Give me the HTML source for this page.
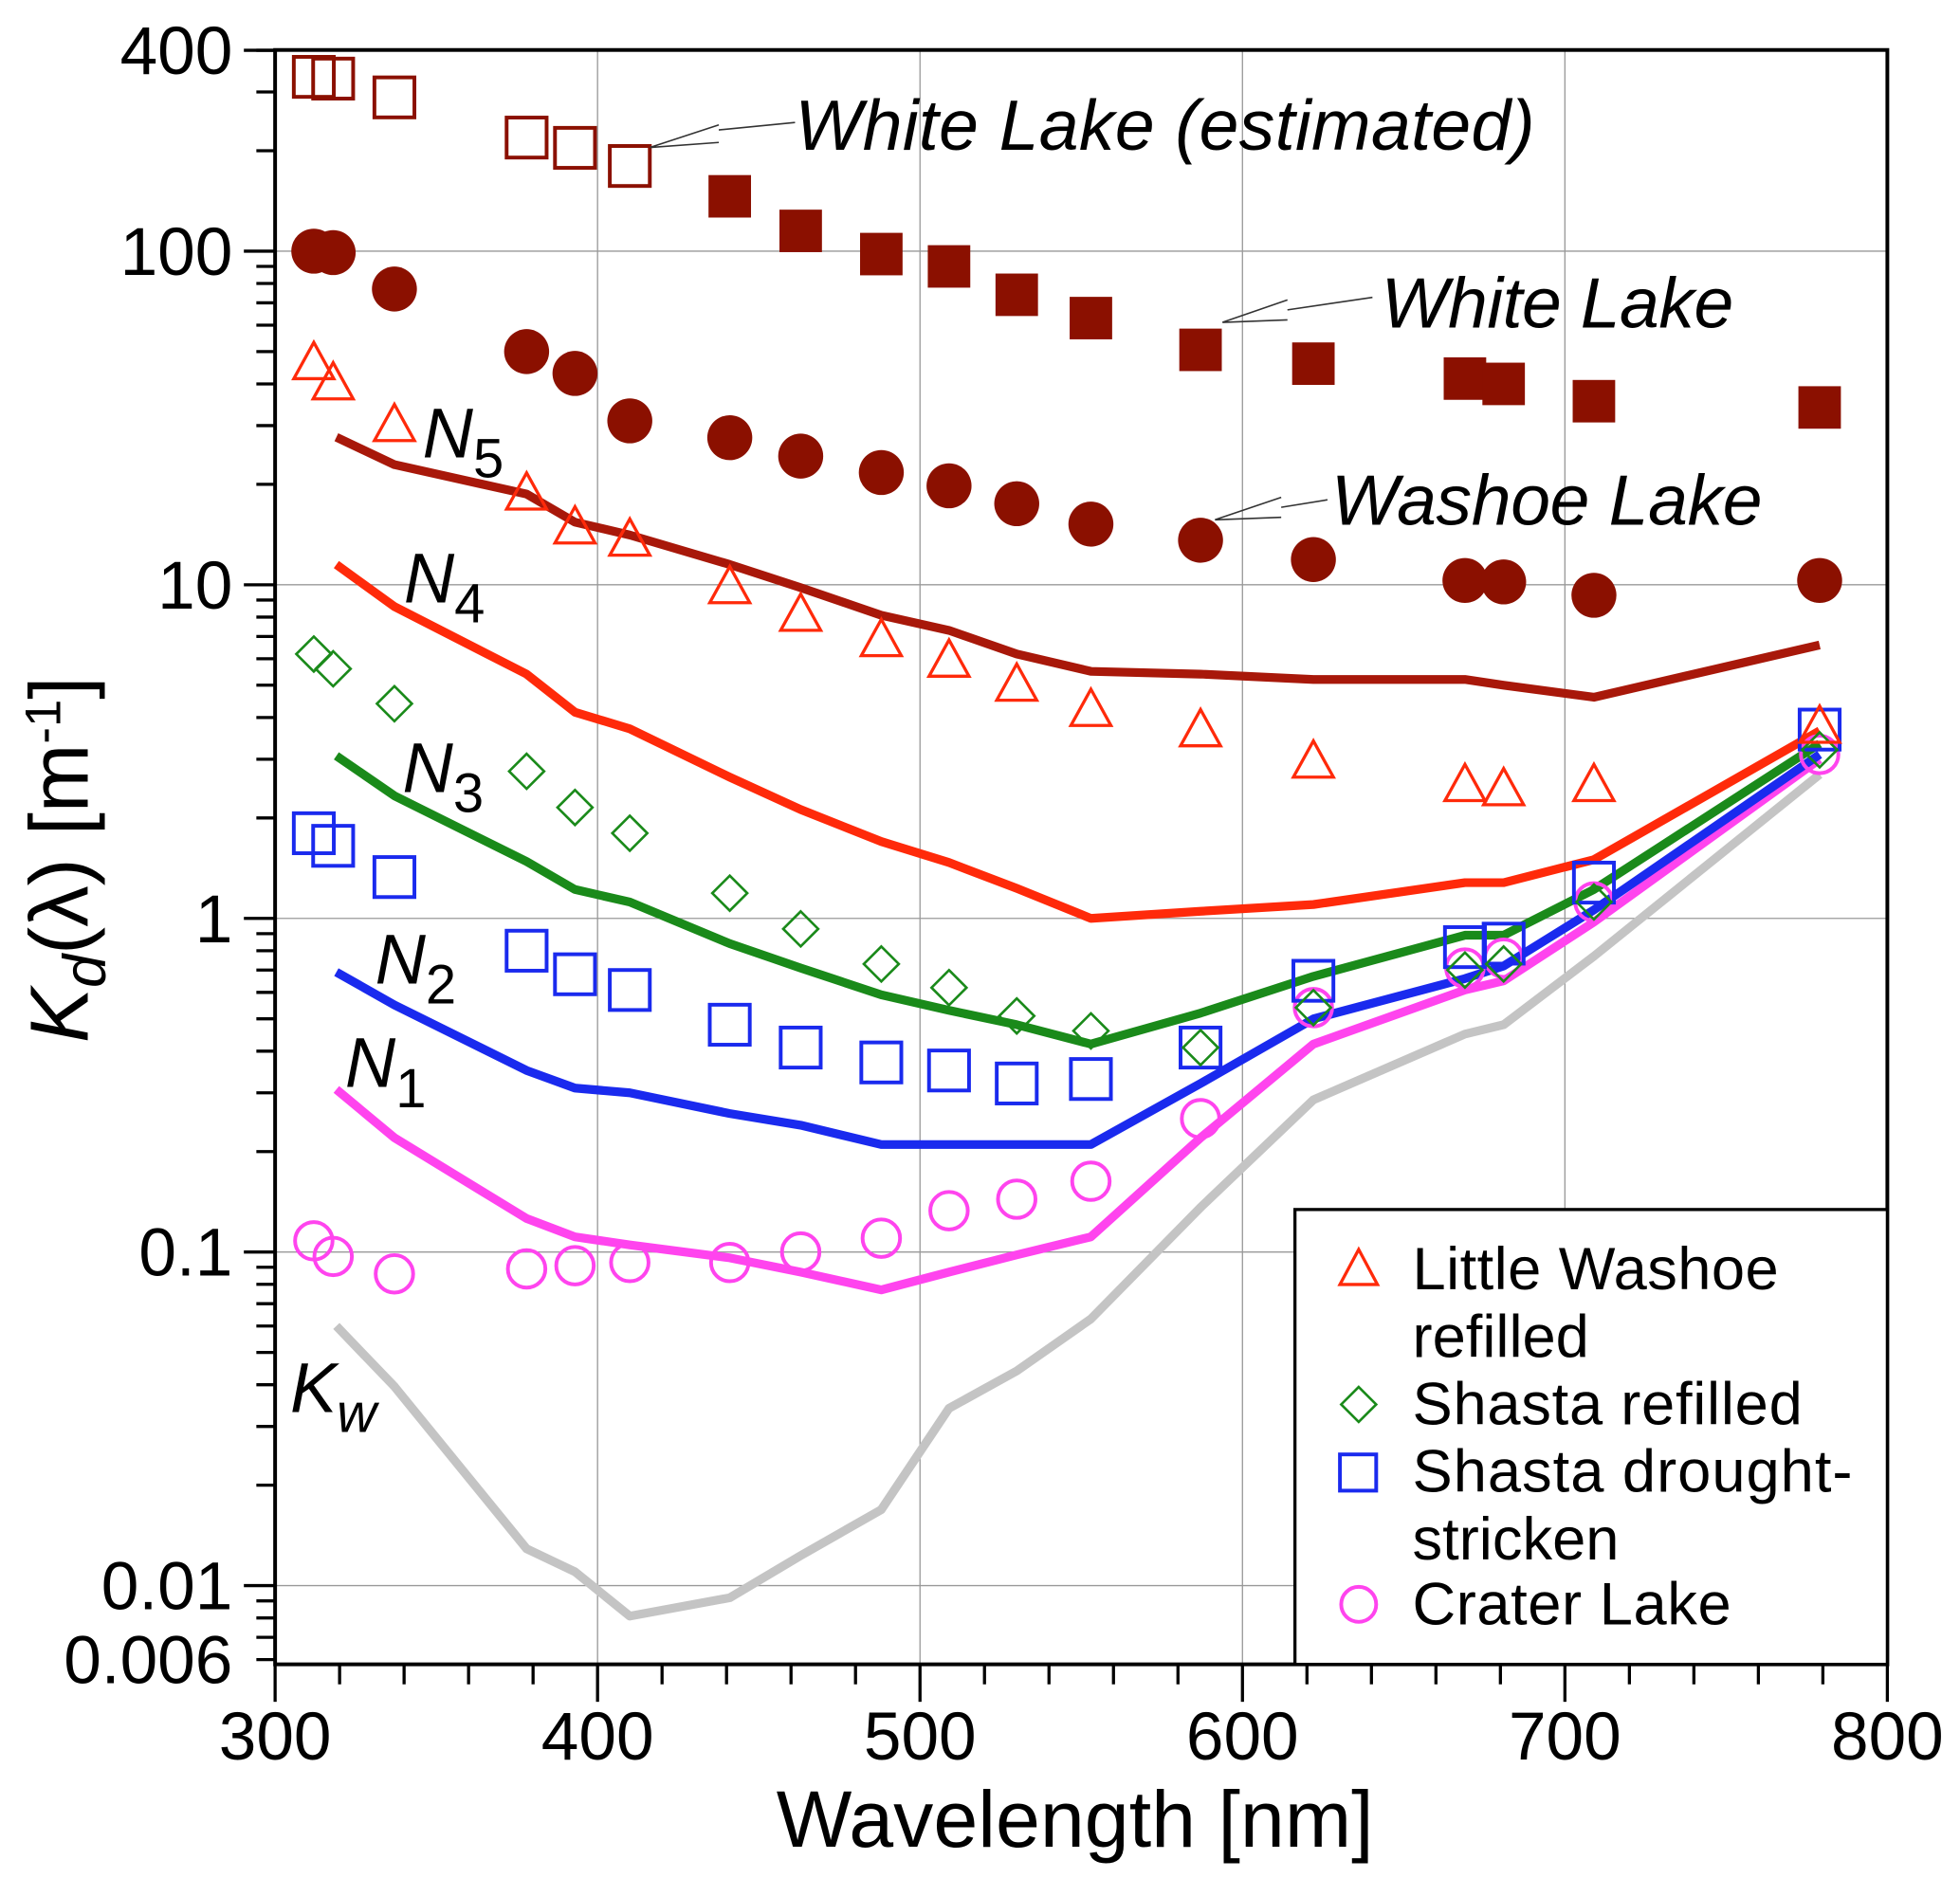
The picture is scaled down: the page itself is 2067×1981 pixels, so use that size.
<!DOCTYPE html>
<html><head><meta charset="utf-8">
<style>
html,body{margin:0;padding:0;background:#fff;}
svg{display:block;}
text{font-family:"Liberation Sans",Arial,sans-serif;fill:#000;}
</style></head>
<body>
<svg id="chart" width="2067" height="1981" viewBox="0 0 1568 1503" xmlns="http://www.w3.org/2000/svg">
<g id="grid"></g>
<g id="series"></g>
<rect x="220" y="40" width="1290" height="1292" fill="none" stroke="#000" stroke-width="3"/>
<g id="axes"></g>
<g font-style="italic" font-size="57">
  <text x="636" y="120" textLength="592">White Lake (estimated)</text>
  <text x="1105" y="262" textLength="282">White Lake</text>
  <text x="1065" y="420" textLength="345">Washoe Lake</text>
  <text x="338" y="366" font-size="56">N<tspan font-style="normal" font-size="44" dy="16">5</tspan></text>
  <text x="323" y="482" font-size="56">N<tspan font-style="normal" font-size="44" dy="16">4</tspan></text>
  <text x="322" y="634" font-size="56">N<tspan font-style="normal" font-size="44" dy="16">3</tspan></text>
  <text x="300" y="787" font-size="56">N<tspan font-style="normal" font-size="44" dy="16">2</tspan></text>
  <text x="276" y="870" font-size="56">N<tspan font-style="normal" font-size="44" dy="16">1</tspan></text>
  <text x="232" y="1130" font-size="56">K<tspan font-size="44" dy="16">w</tspan></text>
</g>
<g stroke="#333" stroke-width="1.2" fill="none">
  <path d="M636 98 L575 104 M520 118 L575 100 M520 118 L575 114"/>
  <path d="M1098 238 L1030 248 M978 258 L1030 240 M978 258 L1030 256"/>
  <path d="M1062 400 L1025 406 M972 416 L1025 398 M972 416 L1025 414"/>
</g>
<g id="legend">
  <rect x="1036" y="968" width="474" height="364" fill="#fff" stroke="#000" stroke-width="2.5"/>
  <g font-size="48">
  <g>
    <path d="M1087 1000 L1102 1028 L1072 1028 Z" fill="none" stroke="#ff2a0a" stroke-width="2.5"/>
    <text x="1130" y="1032" textLength="293">Little Washoe</text><text x="1130" y="1086">refilled</text></g>
  <g>
    <path d="M1087 1110 L1101 1124 L1087 1138 L1073 1124 Z" fill="none" stroke="#1a8a1a" stroke-width="2"/>
    <text x="1130" y="1140" textLength="312">Shasta refilled</text></g>
  <g>
    <rect x="1072" y="1164" width="29" height="29" fill="none" stroke="#1a2aee" stroke-width="3"/>
    <text x="1130" y="1194" textLength="352">Shasta drought-</text><text x="1130" y="1248">stricken</text></g>
  <g>
    <circle cx="1087" cy="1284" r="14" fill="none" stroke="#ff44ee" stroke-width="3"/>
    <text x="1130" y="1300" textLength="255">Crater Lake</text></g>
  </g>
</g>
</svg>
<script>
const lambdaPts = [312,318,337,378,393,410,441,463,488,509,530,553,587,622,669,681,709,779];
const whiteEstL = [312,318,337,378,393,410];
const whiteEst = [333,329,289,219,204,180];
const whiteL = [441,463,488,509,530,553,587,622,669,681,709,779];
const white = [146,115,98,90,74,63,50.6,46,41.5,40,35.5,34];
const washoe = [100,99,77,50,43,31,27.6,24.3,21.7,19.8,17.5,15.2,13.6,11.9,10.3,10.2,9.3,10.3];
const littleWashoe = [46,40,30,18.7,14.8,13.6,9.8,8.1,6.8,5.9,5.0,4.2,3.65,2.94,2.5,2.43,2.5,3.74];
const shastaRefilled = [6.2,5.6,4.4,2.76,2.15,1.8,1.19,0.93,0.73,0.62,0.51,0.46,0.41,0.54,0.70,0.73,1.12,3.2];
const shastaDrought = [1.8,1.65,1.33,0.80,0.68,0.61,0.48,0.41,0.37,0.35,0.32,0.33,0.41,0.65,0.82,0.84,1.28,3.68];
const crater = [0.108,0.097,0.086,0.089,0.091,0.093,0.093,0.1,0.11,0.133,0.144,0.163,0.251,0.54,0.71,0.76,1.12,3.1];
const lineL = [319,337,378,393,410,441,463,488,509,530,553,587,622,669,681,709,779];
const n5 = [27.7,22.9,18.7,15.4,14.1,11.5,9.8,8.1,7.3,6.2,5.5,5.4,5.2,5.2,5.0,4.6,6.6];
const n4 = [11.5,8.6,5.4,4.15,3.7,2.65,2.12,1.7,1.47,1.23,1.0,1.05,1.1,1.28,1.28,1.5,3.65];
const n3 = [3.07,2.33,1.48,1.22,1.12,0.84,0.71,0.59,0.53,0.48,0.42,0.52,0.67,0.89,0.89,1.22,3.34];
const n2 = [0.69,0.55,0.35,0.31,0.30,0.26,0.24,0.21,0.21,0.21,0.21,0.32,0.50,0.66,0.72,1.06,3.1];
const n1 = [0.307,0.22,0.126,0.111,0.105,0.096,0.087,0.077,0.087,0.098,0.111,0.22,0.42,0.61,0.65,0.975,3.0];
const kw = [0.060,0.0395,0.0129,0.011,0.0081,0.0092,0.0123,0.0169,0.034,0.044,0.063,0.136,0.286,0.45,0.48,0.77,2.7];
const xTicks = [300,400,500,600,700,800];
const yTicks = [400,100,10,1,0.1,0.01,0.006];
const yTickLabels = ["400","100","10","1","0.1","0.01","0.006"];

const NS = "http://www.w3.org/2000/svg";
const X = v => 220 + (v - 300) * 2.58;
const Y = v => 468 - (Math.log10(v) - 1) * 267;
function mk(tag, parent, attrs){const e=document.createElementNS(NS,tag);for(const k in attrs)e.setAttribute(k,attrs[k]);parent.appendChild(e);return e;}
const grid=document.getElementById('grid'), ser=document.getElementById('series'), axes=document.getElementById('axes');

[400,500,600,700].forEach(v=>{const l=mk('line',grid,{x1:X(v),x2:X(v),y1:40,y2:1332,stroke:'#999','stroke-width':1});

});
[100,10,1,0.1,0.01].forEach(v=>{const l=mk('line',grid,{x1:220,x2:1510,y1:Y(v),y2:Y(v),stroke:'#999','stroke-width':1});

});

function line(ls,vs,color,name,w){
  const d=ls.map((l,i)=>(i?'L':'M')+X(l).toFixed(1)+' '+Y(vs[i]).toFixed(1)).join(' ');
  const p=mk('path',ser,{d:d,fill:'none',stroke:color,'stroke-width':w||7,'stroke-linejoin':'round'});
  
  
}
line(lineL,kw,'#c4c4c4','kw-line',7);
line(lineL,n1,'#ff44ee','n1-line');
line(lineL,n2,'#1a2aee','n2-line');
line(lineL,n3,'#1a8a1a','n3-line');
line(lineL,n4,'#ff2a0a','n4-line');
line(lineL,n5,'#a8180a','n5-line');

function marks(ls,vs,kind,name){
  ls.forEach((l,i)=>{const x=X(l),y=Y(vs[i]);let e;
    if(kind==='sqOpen') e=mk('rect',ser,{x:x-16,y:y-16,width:32,height:32,fill:'none',stroke:'#8b1000','stroke-width':3});
    else if(kind==='sqFill') e=mk('rect',ser,{x:x-17,y:y-17,width:34,height:34,fill:'#8b1000'});
    else if(kind==='dot') e=mk('circle',ser,{cx:x,cy:y,r:18,fill:'#8b1000'});
    else if(kind==='tri') e=mk('path',ser,{d:`M${x} ${y-17} L${x+16} ${y+12} L${x-16} ${y+12} Z`,fill:'none',stroke:'#ff2a0a','stroke-width':2.5});
    else if(kind==='dia') e=mk('path',ser,{d:`M${x} ${y-14} L${x+14} ${y} L${x} ${y+14} L${x-14} ${y} Z`,fill:'none',stroke:'#1a8a1a','stroke-width':2});
    else if(kind==='sqBlue') e=mk('rect',ser,{x:x-16,y:y-16,width:32,height:32,fill:'none',stroke:'#1a2aee','stroke-width':3});
    else e=mk('circle',ser,{cx:x,cy:y,r:15,fill:'none',stroke:'#ff44ee','stroke-width':3});
    
    
  });
}
marks(whiteEstL,whiteEst,'sqOpen','white-lake-estimated-point');
marks(whiteL,white,'sqFill','white-lake-point');
marks(lambdaPts,washoe,'dot','washoe-lake-point');
marks(lambdaPts,crater,'circ','crater-lake-point');
marks(lambdaPts,shastaDrought,'sqBlue','shasta-drought-point');
marks(lambdaPts,shastaRefilled,'dia','shasta-refilled-point');
marks(lambdaPts,littleWashoe,'tri','little-washoe-point');

for(let v=300;v<=800;v+=20){const maj=v%100===0;
  const t=mk('line',axes,{x1:X(v),x2:X(v),y1:1332,y2:maj?1362:1348,stroke:'#000','stroke-width':2.5});
  
  }
xTicks.forEach(v=>{const t=mk('text',axes,{x:X(v),y:1408,'text-anchor':'middle','font-size':54});t.textContent=v;
  
  });
for(let e=-3;e<=2;e++){for(let m=1;m<=9;m++){const v=m*Math.pow(10,e);if(v<0.006-1e-9||v>400+1e-9)continue;
  const maj=m===1;const t=mk('line',axes,{x1:maj?195:205,x2:220,y1:Y(v),y2:Y(v),stroke:'#000','stroke-width':2.5});
  
  }}
mk('line',axes,{x1:195,x2:220,y1:Y(400),y2:Y(400),stroke:'#000','stroke-width':2.5});
yTicks.forEach((v,i)=>{const t=mk('text',axes,{x:186,y:Y(v)+19,'text-anchor':'end','font-size':54});t.textContent=yTickLabels[i];
  
  });
const xt=mk('text',axes,{x:860,y:1478,'text-anchor':'middle','font-size':64});xt.textContent='Wavelength [nm]';


const yt=mk('text',axes,{x:0,y:0,'text-anchor':'middle','font-size':66,transform:'translate(70 688) rotate(-90)'});
yt.innerHTML='<tspan font-style="italic">K</tspan><tspan font-style="italic" font-size="48" dy="14">d</tspan><tspan dy="-14">(λ) [m</tspan><tspan font-size="40" dy="-22">-1</tspan><tspan dy="22">]</tspan>';


</script>
</body></html>
